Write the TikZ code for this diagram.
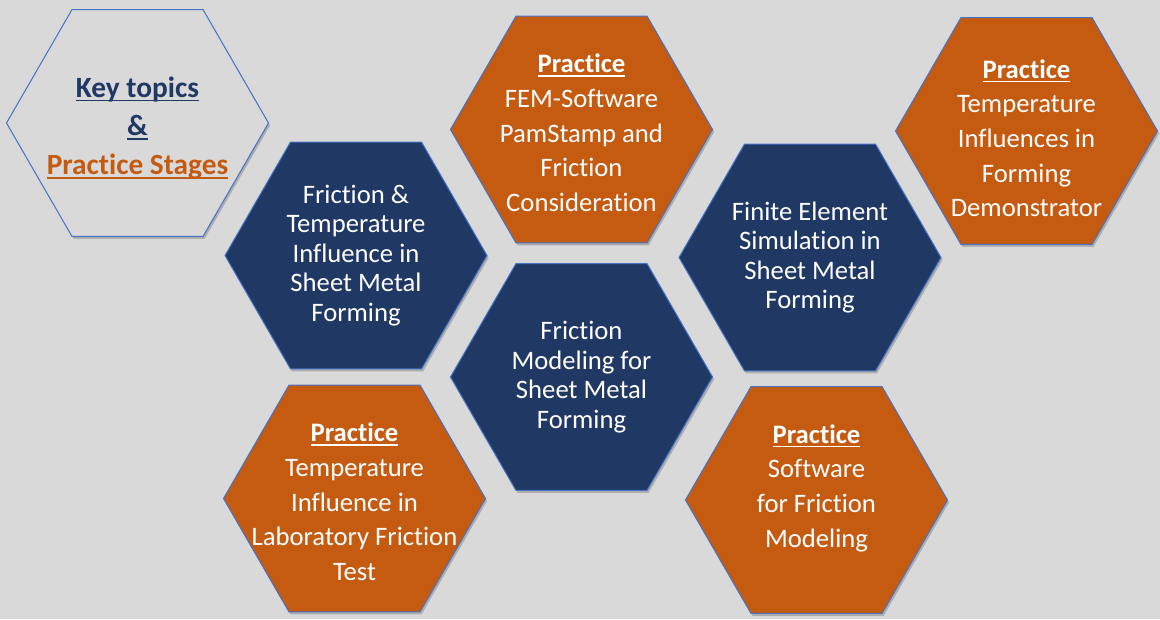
\documentclass[tikz,border=0pt]{standalone}
\usepackage{fontspec}
\setmainfont{Carlito}[RawFeature=-liga]
\usetikzlibrary{shapes.geometric,shadows}

\definecolor{hexorange}{RGB}{197,90,17}
\definecolor{hexnavy}{RGB}{31,56,100}
\definecolor{hexline}{RGB}{68,114,196}
\definecolor{bggray}{RGB}{217,217,217}

% thick underline for the headings
\newcommand{\hexul}[1]{\setbox0\hbox{#1}\rlap{\rule[-3pt]{\wd0}{1.2pt}}\box0}

\tikzset{every picture/.style={line width=0.75pt}}
\tikzset{
  hex/.style={regular polygon, regular polygon sides=6, minimum size=196.5pt, inner sep=0pt,
    draw=hexline, line width=0.75pt,
    drop shadow={shadow xshift=1.2pt, shadow yshift=-1.8pt, opacity=0.2, fill=black}},
  hexkey/.style={hex, fill=bggray},
  hexdark/.style={hex, fill=hexnavy},
  hexpract/.style={hex, fill=hexorange},
  keytxt/.style={inner sep=0pt, align=center, font=\fontsize{22}{29}\selectfont\bfseries},
  darktxt/.style={inner sep=0pt, align=center, text=white, font=\fontsize{20}{22.2}\selectfont},
  practtxt/.style={inner sep=0pt, align=center, text=white, anchor=north, yshift=57pt,
    font=\fontsize{20}{26}\selectfont}
}

\begin{document}
\begin{tikzpicture}[x=0.75pt,y=0.75pt,yscale=-1,xscale=1]
%background, sets diagram size 1160 x 619
\fill[bggray] (0,0) rectangle (1160,619);
\useasboundingbox (0,0) rectangle (1160,619);

%Shape: Hexagon [key]
\node[hexkey] (hkey) at (137.5,123) {};
%Shape: Hexagon [practice fem]
\node[hexpract] (hfem) at (581.5,129.5) {};
%Shape: Hexagon [practice demonstrator]
\node[hexpract] (hdemo) at (1026.5,131) {};
%Shape: Hexagon [friction temperature]
\node[hexdark] (hfrtemp) at (356,255.5) {};
%Shape: Hexagon [finite element]
\node[hexdark] (hfem2) at (810,257.5) {};
%Shape: Hexagon [friction modeling]
\node[hexdark] (hfrmod) at (581.5,377) {};
%Shape: Hexagon [practice laboratory]
\node[hexpract] (hlab) at (354.5,498.5) {};
%Shape: Hexagon [practice software]
\node[hexpract] (hsoft) at (816.5,500) {};

% Text Node
\node[keytxt] (tkey) at ([yshift=3.8pt]hkey.center)
  {\textcolor{hexnavy}{\hexul{Key topics}}\\\textcolor{hexnavy}{\hexul{\&}}\\\textcolor{hexorange}{\hexul{Practice Stages}}};
% Text Node
\node[practtxt] (tfem) at (hfem.center)
  {\textbf{\hexul{Practice}}\\FEM-Software\\PamStamp and\\Friction\\Consideration};
% Text Node
\node[practtxt] (tdemo) at ([yshift=3pt]hdemo.center)
  {\textbf{\hexul{Practice}}\\Temperature\\Influences in\\Forming\\Demonstrator};
% Text Node
\node[darktxt] (tfrtemp) at (hfrtemp.center)
  {Friction \&\\Temperature\\Influence in\\Sheet Metal\\Forming};
% Text Node
\node[darktxt] (tfem2) at (hfem2.center)
  {Finite Element\\Simulation in\\Sheet Metal\\Forming};
% Text Node
\node[darktxt] (tfrmod) at (hfrmod.center)
  {Friction\\Modeling for\\Sheet Metal\\Forming};
% Text Node
\node[practtxt] (tlab) at (hlab.center)
  {\textbf{\hexul{Practice}}\\Temperature\\Influence in\\Laboratory Friction\\Test};
% Text Node
\node[practtxt] (tsoft) at (hsoft.center)
  {\textbf{\hexul{Practice}}\\Software\\for Friction\\Modeling};

\end{tikzpicture}
\end{document}
